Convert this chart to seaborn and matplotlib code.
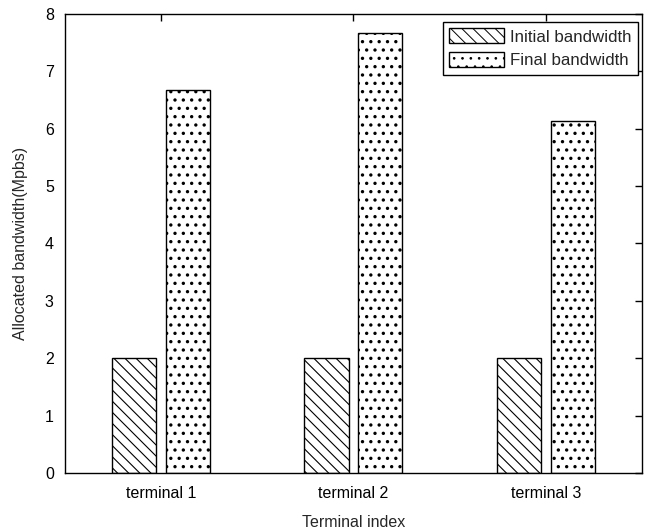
import numpy as np
import pandas as pd
import matplotlib
matplotlib.use("Agg")
import matplotlib.pyplot as plt
import seaborn as sns

# values
terminals = ["terminal 1", "terminal 2", "terminal 3"]
initial_bw = [2.0, 2.0, 2.0]
final_bw = [6.67, 7.67, 6.13]
series_names = ["Initial bandwidth", "Final bandwidth"]
y_ticks = [0, 1, 2, 3, 4, 5, 6, 7, 8]

df = pd.DataFrame({
    "terminal": terminals * 2,
    "series": [series_names[0]] * 3 + [series_names[1]] * 3,
    "bandwidth": initial_bw + final_bw,
})

sns.set_style("white")
plt.rcParams["font.family"] = ["Liberation Sans", "DejaVu Sans"]
plt.rcParams["hatch.linewidth"] = 0.7
plt.rcParams["hatch.color"] = "black"

fig = plt.figure(figsize=(6.49, 5.31), dpi=100)
ax = fig.add_axes([0.100, 0.109, 0.889, 0.865])

sns.barplot(data=df, x="terminal", y="bandwidth", hue="series",
            palette=["white", "white"], saturation=1, edgecolor="black",
            linewidth=1, width=0.56, gap=0.18, ax=ax)

# hatch patterns per series
hatches = ["\\\\\\", ".."]
hatch_lw = [0.8, 1.2]
for cont, h, hlw in zip(ax.containers, hatches, hatch_lw):
    for bar in cont:
        bar.set_hatch(h)
        if hasattr(bar, "set_hatch_linewidth"):
            bar.set_hatch_linewidth(hlw)

ax.set_ylim(0, 8)
ax.set_yticks(y_ticks)
ax.set_xlabel("Terminal index", fontsize=11.5, labelpad=10)
ax.set_ylabel("Allocated bandwidth(Mpbs)", fontsize=11.5, labelpad=12)
ax.tick_params(direction="in", length=5, width=1, labelsize=11.5,
               top=True, right=True, colors="black")
ax.tick_params(axis="y", pad=8)
ax.tick_params(axis="x", pad=9)
for sp in ax.spines.values():
    sp.set_color("black")
    sp.set_linewidth(1)
ax.grid(False)

leg = ax.legend(handles=list(ax.containers), labels=series_names,
                loc="upper right", bbox_to_anchor=(0.993, 0.983),
                borderaxespad=0, frameon=True, fancybox=False,
                edgecolor="black", framealpha=1, fontsize=12.2,
                handlelength=3.2, handleheight=0.95, borderpad=0.4,
                labelspacing=0.45, handletextpad=0.35)
leg.get_frame().set_linewidth(1)

fig.savefig("out.png", dpi=100)
